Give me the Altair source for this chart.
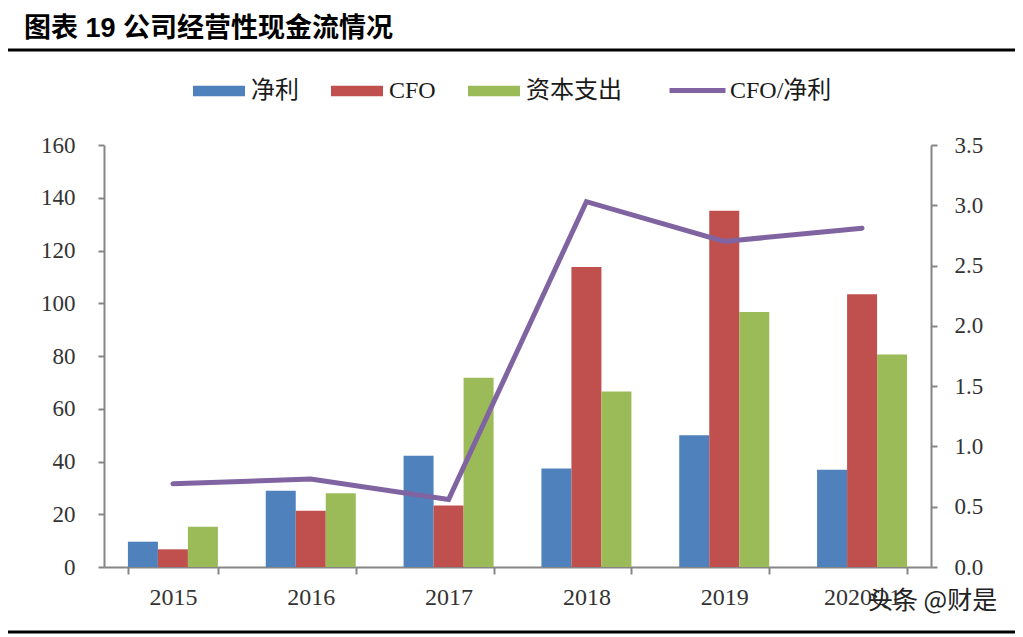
import altair as alt
import pandas as pd

# ---- data ----
years = ["2015", "2016", "2017", "2018", "2019", "2020Q1"]
series_names = ["净利", "CFO", "资本支出"]
net_profit = [9.6, 28.9, 42.2, 37.3, 50.0, 36.9]
cfo = [6.7, 21.3, 23.3, 113.7, 135.1, 103.4]
capex = [15.3, 28.0, 71.8, 66.5, 96.7, 80.6]
ratio = [0.69, 0.73, 0.56, 3.03, 2.70, 2.81]
line_name = "CFO/净利"
left_ticks = [0, 20, 40, 60, 80, 100, 120, 140, 160]
right_ticks = [0.0, 0.5, 1.0, 1.5, 2.0, 2.5, 3.0, 3.5]
title_text = "图表 19  公司经营性现金流情况"
watermark_text = "头条 @财是"

bar_colors = ["#4F81BD", "#C0504D", "#9BBB59"]
line_color = "#8064A2"
AX = "#868686"
SERIF = "Liberation Serif, Noto Sans CJK SC"
LABEL_COLOR = "#333333"

rows = []
for i, y in enumerate(years):
    for name, vals in zip(series_names, [net_profit, cfo, capex]):
        rows.append({"year": y, "series": name, "value": vals[i]})
bars_df = pd.DataFrame(rows)
line_df = pd.DataFrame({"year": years, "ratio": ratio, "name": [line_name] * len(years)})

x_enc = alt.X(
    "year:N", sort=years, title=None,
    scale=alt.Scale(paddingInner=0.347, paddingOuter=0.1735),
    axis=alt.Axis(tickBand="extent", labelAngle=0, domainColor=AX, domainWidth=2,
                  tickColor=AX, tickWidth=2, tickSize=7, labelFont=SERIF,
                  labelFontSize=24, labelColor=LABEL_COLOR, labelPadding=11, grid=False),
)

bars = alt.Chart(bars_df).mark_bar().encode(
    x=x_enc,
    xOffset=alt.XOffset("series:N", sort=series_names,
                        scale=alt.Scale(paddingInner=0, paddingOuter=0)),
    y=alt.Y("value:Q", title=None,
            scale=alt.Scale(domain=[0, 160], nice=False),
            axis=alt.Axis(values=left_ticks, format="d", domainColor=AX, domainWidth=2,
                          tickColor=AX, tickWidth=2, tickSize=6, labelFont=SERIF,
                          labelFontSize=23, labelColor=LABEL_COLOR, labelPadding=23,
                          grid=False)),
    color=alt.Color("series:N", sort=series_names,
                    scale=alt.Scale(domain=series_names, range=bar_colors),
                    legend=alt.Legend(title=None, orient="none", legendX=89, legendY=-80,
                                      direction="horizontal", columns=3, padding=0,
                                      symbolType="M-1,-0.2H1V0.2H-1Z", symbolSize=2704,
                                      symbolStrokeWidth=0, symbolOpacity=1,
                                      labelFont=SERIF, labelFontSize=24,
                                      labelColor="#1a1a1a", labelOffset=6,
                                      columnPadding=32)),
)

line = alt.Chart(line_df).mark_line(strokeWidth=5, strokeCap="round").encode(
    x=alt.X("year:N", sort=years),
    y=alt.Y("ratio:Q", title=None,
            scale=alt.Scale(domain=[0, 3.5], nice=False),
            axis=alt.Axis(orient="right", values=right_ticks, format=".1f",
                          domainColor=AX, domainWidth=2, tickColor=AX, tickWidth=2,
                          tickSize=6, labelFont=SERIF, labelFontSize=23,
                          labelColor=LABEL_COLOR, labelPadding=17, grid=False)),
    stroke=alt.Stroke("name:N",
                      scale=alt.Scale(domain=[line_name], range=[line_color]),
                      legend=alt.Legend(title=None, orient="none", legendX=563, legendY=-85,
                                        padding=0, symbolType="stroke", symbolSize=3136,
                                        symbolStrokeWidth=5, labelFont=SERIF,
                                        labelFontSize=24, labelColor="#1a1a1a",
                                        labelOffset=2)),
)

title_df = pd.DataFrame({"t": [title_text]})
title = alt.Chart(title_df).mark_text(
    align="left", baseline="middle", font="Liberation Sans, Noto Sans CJK SC",
    fontSize=27, fontWeight="bold", color="#000000"
).encode(text="t:N", x=alt.value(-80), y=alt.value(-116))

wm_df = pd.DataFrame({"t": [watermark_text]})
watermark = alt.Chart(wm_df).mark_text(
    align="left", baseline="middle", font="Noto Sans CJK SC",
    fontSize=25, color="#222222"
).encode(text="t:N", x=alt.value(764), y=alt.value(456))

rule_top = alt.Chart(title_df).mark_rule(color="#000000", strokeWidth=3).encode(
    x=alt.value(-99), x2=alt.value(919), y=alt.value(-95))
rule_bottom = alt.Chart(title_df).mark_rule(color="#000000", strokeWidth=3).encode(
    x=alt.value(-99), x2=alt.value(919), y=alt.value(487))

chart = alt.layer(bars, line, title, watermark, rule_top, rule_bottom).resolve_scale(
    y="independent"
).properties(
    width=827, height=422,
    autosize=alt.AutoSizeParams(type="none"),
    padding={"left": 96, "top": 137, "right": 84, "bottom": 70},
).configure_view(stroke=None)

chart.save("out.html", embed_options={"renderer": "svg", "actions": False})
